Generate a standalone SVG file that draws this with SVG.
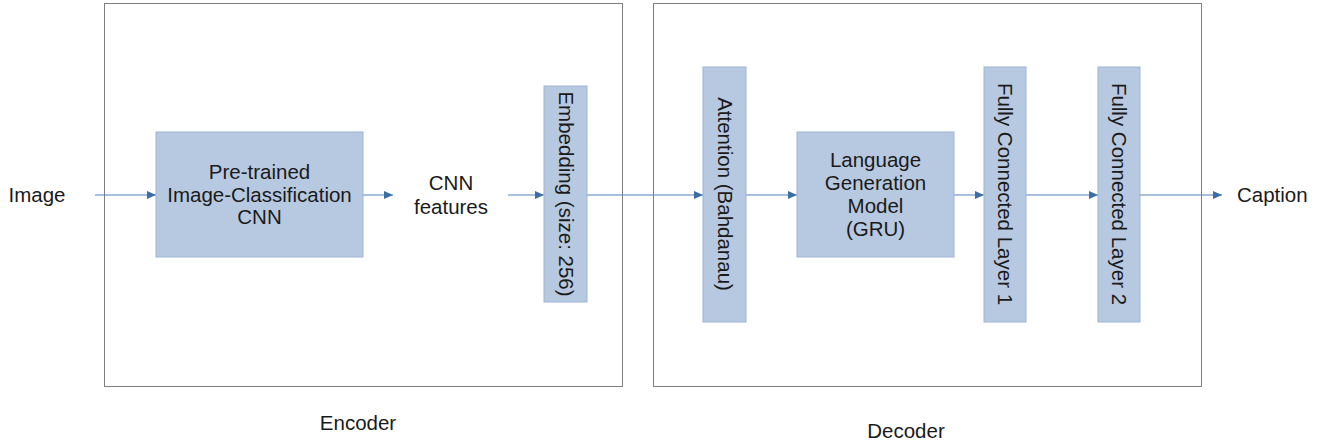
<svg xmlns="http://www.w3.org/2000/svg" width="1321" height="444" viewBox="0 0 1321 444">
<style>
text{font-family:"Liberation Sans",Arial,sans-serif;font-size:20.5px;fill:#1a1a1a}
.c{text-anchor:middle}
.frame{fill:none;stroke:#7f7f7f;stroke-width:1}
.box{fill:#b7c9e0;stroke:#9db4d4;stroke-width:1}
.ln{fill:none;stroke:#4f81bd;stroke-width:1;marker-end:url(#ah)}
</style>
<defs>
<marker id="ah" markerWidth="9" markerHeight="8" refX="9" refY="4" orient="auto" markerUnits="userSpaceOnUse">
<path d="M0,0 L9,4 L0,8 Z" fill="#3a6ea5"/>
</marker>
</defs>
<rect width="1321" height="444" fill="#ffffff"/>
<g id="encoder">
<rect class="frame" x="104.5" y="3.5" width="518" height="383"/>
<text class="c" x="358" y="430">Encoder</text>
</g>
<g id="decoder">
<rect class="frame" x="653.5" y="3.5" width="548" height="383"/>
<text class="c" x="906" y="438">Decoder</text>
</g>
<g id="connectors">
<line class="ln" x1="95" y1="195" x2="156" y2="195"/>
<line class="ln" x1="363" y1="195" x2="393" y2="195"/>
<line class="ln" x1="508" y1="195" x2="544" y2="195"/>
<line class="ln" x1="587" y1="195" x2="703" y2="195"/>
<line class="ln" x1="746" y1="195" x2="797" y2="195"/>
<line class="ln" x1="954" y1="195" x2="984" y2="195"/>
<line class="ln" x1="1026" y1="195" x2="1098" y2="195"/>
<line class="ln" x1="1140" y1="195" x2="1222" y2="195"/>
</g>
<g id="image"><text class="c" x="37" y="202">Image</text></g>
<g id="cnn">
<rect class="box" x="156" y="132" width="207" height="125"/>
<text class="c" x="259.5" y="179">Pre-trained</text>
<text class="c" x="259.5" y="202">Image-Classification</text>
<text class="c" x="259.5" y="224">CNN</text>
</g>
<g id="features">
<text class="c" x="451" y="190">CNN</text>
<text class="c" x="451" y="214">features</text>
</g>
<g id="embedding">
<rect class="box" x="544" y="86" width="43" height="216"/>
<text class="c" transform="translate(558.5,194) rotate(90)">Embedding (size: 256)</text>
</g>
<g id="attention">
<rect class="box" x="703" y="67" width="43" height="255"/>
<text class="c" transform="translate(717.5,194) rotate(90)">Attention (Bahdanau)</text>
</g>
<g id="gru">
<rect class="box" x="797" y="132" width="157" height="125"/>
<text class="c" x="875.5" y="167">Language</text>
<text class="c" x="875.5" y="190">Generation</text>
<text class="c" x="875.5" y="213">Model</text>
<text class="c" x="875.5" y="236">(GRU)</text>
</g>
<g id="fc1">
<rect class="box" x="984" y="67" width="42" height="255"/>
<text class="c" transform="translate(998,194) rotate(90)">Fully Connected Layer 1</text>
</g>
<g id="fc2">
<rect class="box" x="1098" y="67" width="42" height="255"/>
<text class="c" transform="translate(1112,194) rotate(90)">Fully Connected Layer 2</text>
</g>
<g id="caption"><text x="1237" y="202">Caption</text></g>
</svg>
